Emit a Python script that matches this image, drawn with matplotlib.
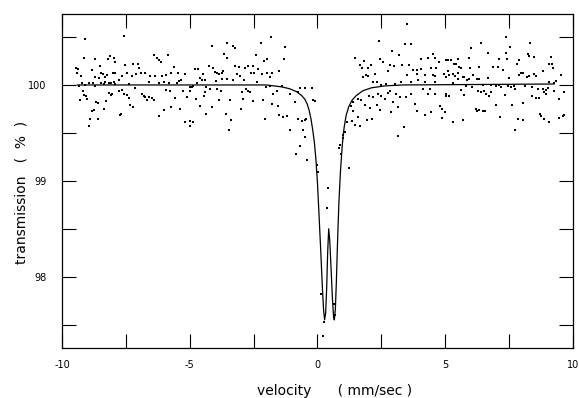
import matplotlib
matplotlib.use("Agg")
import matplotlib.pyplot as plt
from matplotlib.ticker import MultipleLocator

plt.rcParams['font.family'] = ['DejaVu Sans']
plt.rcParams['axes.unicode_minus'] = False

left_wing = [
    (-9.11, 100.48), (-7.59, 100.51), (-9.15, 100.28), (-8.70, 100.27), (-8.21, 100.27),
    (-8.11, 100.30), (-7.98, 100.28), (-7.91, 100.24), (-8.53, 100.20), (-8.83, 100.16),
    (-9.45, 100.18), (-9.39, 100.17), (-9.41, 100.12), (-9.26, 100.09), (-8.46, 100.13),
    (-8.41, 100.11), (-8.30, 100.08), (-8.24, 100.10), (-8.02, 100.12), (-7.94, 100.13),
    (-7.52, 100.21), (-7.23, 100.22), (-7.03, 100.22), (-6.97, 100.18), (-6.41, 100.31),
    (-6.28, 100.28), (-6.22, 100.26), (-6.11, 100.24), (-5.85, 100.31), (-5.63, 100.19),
    (-5.46, 100.13), (-5.20, 100.11), (-5.72, 100.13), (-5.93, 100.10), (-6.09, 100.09),
    (-6.37, 100.09), (-6.54, 100.09), (-6.76, 100.13), (-6.89, 100.13), (-7.10, 100.11),
    (-7.26, 100.09), (-7.46, 100.12), (-7.65, 100.09), (-7.76, 100.05), (-7.98, 100.03),
    (-8.07, 100.02), (-8.17, 100.02), (-8.30, 100.03), (-8.46, 100.02), (-8.56, 100.07),
    (-8.70, 100.08), (-8.80, 100.02), (-8.96, 100.02), (-9.22, 100.02), (-9.35, 99.99),
    (-9.09, 100.00), (-8.72, 99.99), (-8.37, 100.01), (-7.91, 100.01), (-7.39, 100.01),
    (-6.58, 100.03), (-6.22, 100.02), (-6.02, 100.03), (-5.83, 100.02), (-5.50, 100.02),
    (-5.41, 100.04), (-5.33, 100.05),
    (-9.19, 99.94), (-9.15, 99.90), (-9.28, 99.84), (-9.06, 99.88), (-9.02, 99.85),
    (-8.66, 99.82), (-8.59, 99.81), (-8.83, 99.73), (-8.76, 99.74), (-8.37, 99.75),
    (-8.28, 99.83), (-8.17, 99.92), (-8.04, 99.91), (-7.78, 99.94), (-7.65, 99.95),
    (-7.59, 99.91), (-7.46, 99.90), (-7.39, 99.86), (-7.16, 99.97), (-6.87, 99.91),
    (-6.80, 99.89), (-6.74, 99.87), (-6.67, 99.84), (-6.58, 99.87), (-6.48, 99.86),
    (-6.41, 99.84), (-7.33, 99.79), (-7.20, 99.77), (-7.68, 99.70), (-7.74, 99.69),
    (-8.89, 99.65), (-8.59, 99.64), (-8.96, 99.57), (-6.22, 99.68), (-6.02, 99.74),
    (-5.93, 99.95), (-5.76, 99.94), (-5.75, 99.77), (-5.56, 99.86), (-5.37, 99.75),
    (-5.28, 99.94), (-5.11, 99.87), (-4.98, 99.94), (-5.17, 99.61), (-5.00, 99.57),
    (-8.07, 99.90),
    (-4.14, 100.41), (-3.56, 100.44), (-3.32, 100.41), (-3.23, 100.39), (-2.22, 100.44),
    (-1.83, 100.50), (-3.65, 100.32), (-3.53, 100.28), (-2.41, 100.31), (-1.96, 100.27),
    (-2.09, 100.25), (-4.79, 100.17), (-4.66, 100.17), (-4.23, 100.20), (-4.08, 100.18),
    (-4.01, 100.14), (-3.95, 100.13), (-3.75, 100.12), (-3.69, 100.15), (-3.84, 100.11),
    (-4.47, 100.11), (-4.60, 100.07), (-4.53, 100.05), (-4.40, 100.05), (-4.73, 100.02),
    (-4.92, 99.98), (-4.86, 99.99), (-3.23, 100.20), (-3.06, 100.19), (-2.84, 100.18),
    (-2.71, 100.20), (-2.54, 100.20), (-2.49, 100.13), (-2.62, 100.13), (-2.32, 100.17),
    (-2.18, 100.11), (-1.96, 100.13), (-1.79, 100.12), (-1.49, 100.15), (-3.16, 100.11),
    (-3.03, 100.09), (-2.88, 100.05), (-3.29, 100.05), (-3.56, 100.06), (-3.75, 100.06),
    (-3.97, 100.04), (-2.38, 100.03), (-1.86, 100.08),
    (-4.99, 99.98), (-4.36, 99.98), (-4.21, 99.96), (-3.95, 99.96), (-3.79, 99.94),
    (-2.97, 99.93), (-2.80, 99.96), (-2.71, 99.94), (-2.64, 99.93), (-2.02, 99.98),
    (-1.86, 99.99), (-1.75, 99.91), (-1.57, 99.94), (-1.40, 99.99),
    (-4.76, 99.85), (-4.44, 99.89), (-4.40, 99.93), (-3.84, 99.84), (-3.42, 99.84),
    (-2.90, 99.85), (-2.51, 99.83), (-2.15, 99.84), (-1.79, 99.80), (-1.53, 99.78),
    (-4.60, 99.78), (-4.14, 99.77), (-4.36, 99.70), (-3.58, 99.70), (-3.01, 99.75),
    (-1.49, 99.69), (-4.99, 99.62), (-4.89, 99.61), (-3.40, 99.63), (-3.45, 99.53),
    (-2.06, 99.65),
]

dip = [
    (-1.27, 100.40), (-1.31, 100.27), (-0.69, 99.97), (-0.49, 99.97), (-0.23, 99.97),
    (-0.75, 99.93), (-1.08, 99.91), (-0.88, 99.82), (-0.17, 99.84), (-0.10, 99.83),
    (-1.34, 99.67), (-1.21, 99.68), (-0.75, 99.65), (-0.62, 99.62), (-0.49, 99.63),
    (-0.43, 99.65), (-1.08, 99.53), (-0.56, 99.53), (-0.49, 99.46), (-0.69, 99.36),
    (-0.84, 99.28), (-0.40, 99.22), (0.42, 98.93), (1.24, 99.13), (0.36, 98.72),
    (0.23, 97.38), (0.27, 97.53), (-0.01, 99.17), (0.03, 99.09), (0.14, 97.82),
    (0.66, 97.72), (0.69, 97.60), (0.98, 99.48), (0.85, 99.34), (0.94, 99.28),
]

right_wing = [
    (2.39, 100.46), (3.52, 100.64), (3.41, 100.43), (3.67, 100.43), (2.92, 100.35),
    (3.18, 100.31), (1.48, 100.28), (1.82, 100.25), (2.43, 100.27), (2.56, 100.24),
    (4.06, 100.27), (4.33, 100.28), (4.52, 100.32), (4.61, 100.28), (4.74, 100.24),
    (5.04, 100.26), (1.65, 100.21), (1.74, 100.18), (1.98, 100.18), (2.11, 100.21),
    (2.82, 100.21), (2.99, 100.20), (3.31, 100.21), (3.57, 100.21), (3.74, 100.16),
    (3.91, 100.16), (4.06, 100.17), (4.46, 100.18), (4.65, 100.18), (2.76, 100.15),
    (2.24, 100.11), (1.98, 100.09), (1.78, 100.08), (1.91, 100.10), (3.52, 100.10),
    (3.91, 100.11), (4.22, 100.10), (4.52, 100.10), (4.59, 100.09), (4.95, 100.11),
    (5.04, 100.08), (2.34, 100.03), (2.50, 100.00), (2.69, 100.01), (3.02, 100.01),
    (3.28, 100.03), (3.67, 100.03), (3.93, 100.05), (4.19, 100.03), (4.59, 100.03),
    (2.17, 100.03),
    (2.00, 99.88), (2.17, 99.87), (2.37, 99.91), (2.50, 99.89), (2.76, 99.92),
    (2.82, 99.94), (3.09, 99.91), (2.63, 99.85), (3.22, 99.87), (3.48, 99.87),
    (3.67, 99.91), (4.13, 99.96), (4.39, 99.96), (4.33, 99.91), (4.61, 99.91),
    (5.04, 99.91), (1.72, 99.84), (1.85, 99.79), (1.59, 99.85), (1.39, 99.82),
    (1.30, 99.78), (1.39, 99.73), (1.59, 99.67), (2.04, 99.76), (2.34, 99.79),
    (2.43, 99.74), (2.96, 99.82), (3.15, 99.77), (2.89, 99.72), (3.80, 99.80),
    (3.91, 99.73), (4.19, 99.69), (4.46, 99.72), (4.78, 99.78), (4.87, 99.75),
    (4.98, 99.72), (4.87, 99.66), (1.17, 99.61), (1.35, 99.62), (1.48, 99.58),
    (1.65, 99.57), (1.95, 99.63), (2.13, 99.64), (3.39, 99.56), (3.15, 99.47),
    (1.06, 99.51), (0.87, 99.37), (1.00, 99.45),
    (7.38, 100.50), (8.32, 100.44), (6.01, 100.39), (6.40, 100.44), (7.53, 100.40),
    (6.66, 100.33), (7.38, 100.33), (8.23, 100.32), (8.27, 100.30), (8.46, 100.29),
    (9.14, 100.29), (5.10, 100.26), (5.23, 100.26), (5.49, 100.27), (5.92, 100.28),
    (7.12, 100.27), (7.42, 100.27), (7.87, 100.26), (5.36, 100.22), (5.42, 100.22),
    (5.55, 100.19), (5.62, 100.18), (5.97, 100.18), (6.33, 100.19), (6.86, 100.19),
    (7.05, 100.19), (7.27, 100.16), (7.80, 100.22), (9.07, 100.22), (9.18, 100.22),
    (9.23, 100.18), (9.53, 100.10), (5.10, 100.15), (5.16, 100.10), (5.32, 100.11),
    (5.40, 100.09), (5.49, 100.12), (5.68, 100.08), (5.75, 100.08), (5.84, 100.05),
    (5.92, 100.06), (6.10, 100.10), (6.23, 100.06), (6.31, 100.06), (6.66, 100.07),
    (7.51, 100.07), (7.87, 100.10), (7.97, 100.12), (8.06, 100.13), (8.19, 100.08),
    (8.27, 100.09), (8.49, 100.11), (8.55, 100.09), (8.81, 100.15), (9.34, 100.04),
    (9.27, 100.02), (5.29, 100.02), (5.49, 100.06),
    (5.81, 99.99), (6.05, 99.98), (6.47, 100.00), (6.79, 100.00), (6.99, 99.99),
    (7.12, 100.00), (7.18, 99.98), (7.44, 99.99), (7.57, 99.98), (7.70, 99.99),
    (7.74, 99.96), (8.13, 99.99), (8.40, 99.98), (8.62, 99.96), (8.81, 99.96),
    (8.94, 99.95), (9.01, 99.97), (9.07, 100.03),
    (5.03, 99.89), (5.16, 99.88), (5.62, 99.95), (5.75, 99.90), (6.27, 99.94),
    (6.40, 99.93), (6.53, 99.94), (6.60, 99.91), (6.79, 99.93), (6.73, 99.88),
    (6.99, 99.79), (7.35, 99.90), (7.61, 99.79), (8.03, 99.81), (8.40, 99.89),
    (8.55, 99.86), (8.68, 99.86), (8.88, 99.93), (8.94, 99.91), (9.27, 99.94),
    (9.66, 99.93), (9.47, 99.85), (6.20, 99.75), (6.23, 99.73), (6.33, 99.74),
    (6.47, 99.73), (6.57, 99.73), (7.14, 99.67), (7.84, 99.65), (8.06, 99.63),
    (8.71, 99.70), (8.75, 99.68), (8.88, 99.65), (9.05, 99.61), (9.47, 99.66),
    (9.60, 99.68), (9.66, 99.69), (5.32, 99.61), (5.71, 99.63), (7.74, 99.53),
]

# fitted doublet
fit_vel = [-9.40, -2.00, -1.40, -1.08, -0.82, -0.62, -0.49, -0.40, -0.32, -0.25,
           -0.18, -0.12, -0.06, 0.00, 0.06, 0.13, 0.19, 0.24, 0.28, 0.32,
           0.36, 0.40, 0.44, 0.48, 0.53, 0.58, 0.63, 0.66, 0.70, 0.74,
           0.79, 0.84, 0.90, 0.97, 1.04, 1.12, 1.22, 1.35, 1.52, 1.78,
           2.11, 2.63, 3.30, 9.25]
fit_tr = [100.00, 100.00, 99.98, 99.96, 99.93, 99.89, 99.85, 99.80, 99.73, 99.64,
          99.52, 99.40, 99.22, 98.98, 98.65, 98.26, 97.90, 97.65, 97.55, 97.62,
          97.88, 98.26, 98.50, 98.38, 98.10, 97.80, 97.58, 97.55, 97.66, 97.95,
          98.40, 98.78, 99.10, 99.37, 99.55, 99.68, 99.77, 99.84, 99.89, 99.94,
          99.97, 99.99, 100.00, 100.01]

fig, ax = plt.subplots(figsize=(5.79, 3.98), dpi=100)
fig.subplots_adjust(left=0.107, right=0.9896, bottom=0.1264, top=0.9648)

for pts in (left_wing, dip, right_wing):
    v = [p[0] for p in pts]
    t = [p[1] for p in pts]
    ax.plot(v, t, linestyle='none', marker='s', ms=1.5, mew=0, color='black')

ax.plot(fit_vel, fit_tr, color='black', lw=0.9)

ax.set_xlim(-10, 10)
ax.set_ylim(97.26, 100.74)
ax.xaxis.set_major_locator(MultipleLocator(5))
ax.xaxis.set_minor_locator(MultipleLocator(2.5))
ax.yaxis.set_major_locator(MultipleLocator(1))
ax.yaxis.set_minor_locator(MultipleLocator(0.5))
ax.yaxis.set_major_formatter(plt.FuncFormatter(lambda y, _: '%d' % round(y)))

ax.tick_params(which='both', direction='in', top=True, right=True,
               length=10, width=0.8, labelsize=7)
ax.tick_params(axis='x', pad=9)
ax.tick_params(axis='y', pad=11)
for s in ax.spines.values():
    s.set_linewidth(0.9)

ax.set_xlabel('velocity      ( mm/sec )', fontsize=10)
ax.xaxis.set_label_coords(0.534, -0.13)
ax.xaxis.label.set_va('center')
ax.set_ylabel('transmission   (  %  )', fontsize=10)
ax.yaxis.set_label_coords(-0.080, 0.466)
ax.yaxis.label.set_va('center')

plt.savefig('out.png', dpi=100)
